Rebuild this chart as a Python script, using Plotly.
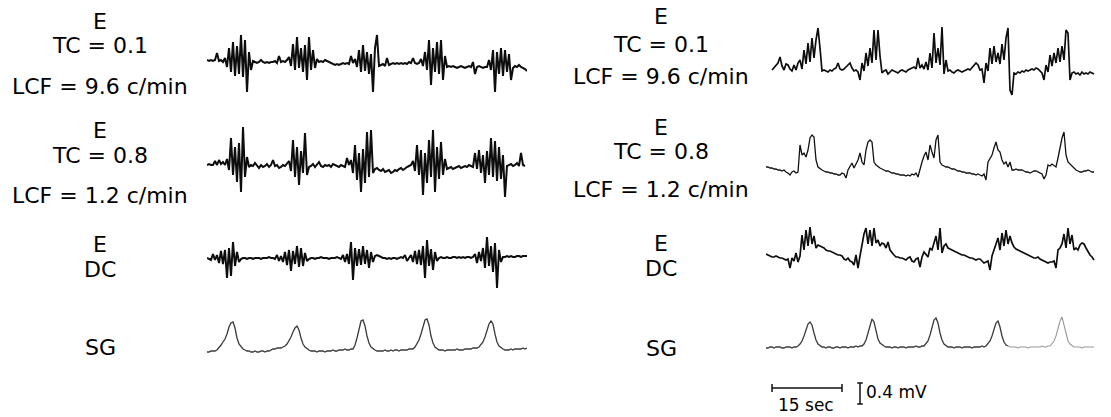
import plotly.graph_objects as go

W, H = 1111, 417
DT = 15 / 35          # seconds per sample
PX_PER_S = 70 / 15    # horizontal scale (15 s bar = 70 px)

# ---------------- data (amplitude units: 21 units = 0.4 mV, up positive) ----------------
E_TC01_LEFT = [2, 1, 2, 1, 2, 9, 1, 2, 0,
               4, -5, 14, -10, 20, -14, 16, -12, 27, -15, 22, -30, 10, -8,
               1, 0, -1, 0, 2, 0, -1, 0, -1, 0, 0, 1, -1, 6, 0, 1, 0, 2,
               5, -4, 18, -8, 25, -6, 14, -10, 17, -18, 25, -8, 12, -6, 3,
               0, 1, 0, 2, 1, 0, -1, -2, -3, -2, -3, -2, -1, -2, -1, -2, 6, -1,
               3, -5, 12, -10, 17, -9, 10, -12, 8, -30, 14, 27, -4,
               -3, -2, -4, 4, -3, -2, -1, -2, -1, -2, -1, -2, -1, -2, 0, -1, 4, -1, -2, -1,
               3, -4, 10, -8, 22, -23, 14, -10, 20, -12, 22, -18, 6, -5,
               -4, -5, -4, -5, -6, -5, -4, -5, -6, -5, -4, -5, 0, -12, -5, -4, -5, -6, -5, -5,
               2, -8, 12, -30, 10, -12, 14, -14, 12, -10, 8, -18,
               -6, -4, -5, -3, -5, -6, -7, -9]

E_TC08_LEFT = [0, 1, 0, 0, 4, 0, 5, 1, 3, 0,
               6, -5, 27, -10, 18, -17, 22, -27, 38, -12, 8,
               -2, 0, -1, 2, -1, -3, 0, -2, -1, 1, -2, 0, 5, -1, 0, -3, -2, 0, -1, 1,
               4, -6, 25, -12, 18, -20, 14, -8, 32, -10,
               -2, -1, 1, -2, 0, 3, -1, -2, 0, -1, 0, -2, 1, 0, -1, -2, 0, -1, -2, 7, 0,
               5, -8, 20, -15, 12, -27, 16, -18, 33, -12, 35, -8,
               -4, -3, -5, -6, -4, -7, -6, -5, -8, -7, -5, -6, -4, -3, -5, -3, -2, -1, 0,
               4, -6, 20, -10, 15, -30, 12, -18, 25, -12, 35, -27, 18, -14, 23, -10, 6, -4,
               -3, -2, -4, -3, -2, -1, -3, -2, -1, -2, 0, -1, -2,
               12, -4, 15, -8, 10, -18, 14, -10, 27, -12, 24, -16, 18, -14, 10, -32,
               -1, 0, 1, -1, 0, 2, -1, 12, 0, -1]

E_DC_LEFT = [0, -1, -2, 4, -2,
             3, -5, 7, -6, 8, -20, 10, -18, 16, -8, 6, -4,
             -1, 0, 0, -1, 0, 0, -1, 0, 0, 0, -1, 0, 0, 0, 1, 0, 0, -1, 3, -3,
             2, -4, 6, -7, 8, -13, 7, -6, 12, -9, 10, -8, 5, -3,
             -1, 0, 0, -1, 0, 0, 1, 0, 0, 0, -1, 0, 0, 0, 1, 0, -1, 3, -4,
             4, -6, 16, -22, 10, -8, 9, -7, 12, -6, 8, -10, 6, -4,
             2, 3, 2, 1, 0, 0, -1, 0, -1, 0, 0, -1, 0, 1, 0, 3, -3, 0,
             3, -4, 7, -6, 8, -7, 12, -20, 18, -8, 9, -12, 6, -3,
             0, 1, 0, 0, 1, 0, 0, 1, 1, 0, 1, 0, 1, 0, 1, 1, 0, 1,
             4, -5, 6, -3, 10, -10, 21, -8, 12, -14, 15, -30, 8, -4,
             1, 1, 2, 1, 2, 1, 1, 2, 2, 1, 2, 2, 2]

SG_LEFT = [-2, -2, -1, -1,
           -1, 0, 2, 5, 8, 11, 16, 23, 27, 28, 22, 12, 6, 3, 1, 0, -1,
           -1, -2, -2, -1, -2, -2, -1, -1, -2, -1, -1, 0, 1, 1, 2, 2,
           2, 3, 4, 6, 9, 13, 18, 22, 24, 20, 12, 6, 3, 1, 0, -1,
           -1, -1, -2, -1, -1, -1, -2, -1, -1, -1, 0, -1, -1, 0, 0, 0, 1, 0, 0, 1,
           1, 5, 12, 22, 29, 30, 24, 14, 7, 3, 1, 0, -1, -1,
           -1, -1, 0, -1, -1, 0, -1, 0, 0, -1, 0, 0, 0, 0, 1, 1,
           1, 3, 6, 10, 16, 24, 30, 31, 25, 14, 7, 3, 1, 0,
           0, 0, -1, 0, 0, 0, 0, 0, 1, 0, 0, 0, 1, 1, 1, 1, 2, 2,
           2, 3, 5, 8, 13, 19, 26, 29, 26, 16, 8, 4, 2, 1, 0,
           0, 0, 1, 0, 1, 1, 1, 1, 2, 1, 2]

E_TC01_RIGHT = [None, None, None,
                -2, 0, 3, 5, 11, 2, -2, 4, 3, -1, -3, 3, -2, 5,
                8, -1, 18, 4, 25, 6, 30, 10, 28, 40, 20, -3,
                -2, -3, -4, -2, -3, -1, 0, 5, -1, -2, -1, 1, 3, 5, 0, -3, -2, -4, -12,
                5, -3, 15, 2, 20, 5, 38, 8, 38, 12, -5,
                -3, -2, -6, -4, -2, -3, -4, -5, -3, -2, -3, -4, -2, -1, 0, 1, -1, 10, 0, 3, -1,
                6, -2, 15, 0, 35, 5, 20, 3, 41, -6, 8,
                -3, -2, -4, -5, -3, -2, -3, -4, -3, -2, -1, -2, 0, 2, 5, 3, -2, -1, -15,
                5, -3, 20, 4, 22, 6, 15, 4, 24, 8, 30, 40, -22, -27,
                -5, -6, -4, -5, -3, -4, -2, -3, -2, -1, -2, 0, -1, -3, -5, -12,
                3, -4, 13, 2, 15, 5, 20, 6, 22, 8, 38, 35, -12,
                -5, -4, -6, -5, -7, -4, -6, -5, -6, -4, -5, -6]

E_TC08_RIGHT = [3, 3, 2, 2, 1, 1, 0, 0, -1, 0, -2, -3, -5, -2, -1, -3, -2,
                25, 15, 17, 13, 20, 32, 35, 33, 10, 3, 1,
                0, -1, -2, -2, -3, -3, -4, -4, -5, -5, -3, -4, -8,
                0, 3, 7, 2, 6, 10, 17, 8, 5, 20, 28, 30, 28, 8, 5, 3, 2, 1,
                0, -1, -1, -2, -3, -3, -4, -4, -5, -5, -5, -6, -5, -6, -4, -5, -3, -7,
                2, 8, 14, 18, 10, 25, 18, 12, 30, 35, 8, 5, 4, 3, 3, 2, 1, 1,
                0, -1, -1, -2, -2, -3, -3, -3, -4, -4, -5, -4, -5, -6, -4, -10,
                8, 12, 15, 22, 28, 20, 18, 10, 6, 8, 3, 8, 0, 0, 1, 0, 0, 0, -1, -2,
                -2, -3, -2, -1, -1, -2, -3, -4, -9, -5,
                5, 4, 6, 4, 3, 12, 22, 32, 38, 15, 8, 6, 3, 1, 0, -1, -2, -2, -1, -1, 0, -1, -2, -2]

E_DC_RIGHT = [4, 3, 2, 1, 1, 2, 1, 0, 0, -1, -2, -1, -10, 0, -3, 5, -4, 2,
              23, 8, 28, 12, 31, 14, 22, 10, 13, 12, 11, 10, 8, 7, 7, 6, 5, 4, 3, 3, 2, -1, -2, 0, -3, -4, -7, 3, -10, 2,
              13, 24, 30, 14, 28, 12, 30, 15, 18, 12, 15, 14, 10, 16, 8, 5, 3, 1, 1, 0, 0, -1, -2, 0, 1, -3, -4, -1, 0, -9, 1,
              6, 3, 1, 10, 8, 15, 22, 8, 30, 5, 12, 14, 10, 9, 8, 7, 6, 5, 4, 3, 3, 2, 1, 0, 0, -1, -2, -1, -1, -3, -5, -4, -3, -12,
              2, 8, 13, 20, 8, 25, 12, 28, 14, 22, 15, 11, 9, 8, 7, 6, 5, 4, 3, 2, 1, 0, 0, 1, -1, -2, -3, -4, -5, -4, -4, -3, -10,
              8, 10, 14, 24, 10, 30, 14, 23, 8, 10, 8, 13, 15, 14, 10, 6, 3, 1, -2]

SG_RIGHT = [-1, -1, 0, 0, -1, 0, 0, 0, -1, -1, 0, 0, 0, -1, 0, 0,
            1, 3, 6, 11, 17, 23, 25, 22, 14, 7, 3, 1, 0,
            0, -1, 0, 0, -1, -1, 0, 0, -1, 0, 0, 0, -1, 0, 0, 0, 1, 0, 1,
            1, 3, 7, 14, 22, 28, 25, 16, 8, 4, 2, 1, 0,
            0, 0, -1, 0, 0, -1, 0, 0, 0, -1, 0, 0, 0, 0, 1, 0, 0, 1,
            1, 3, 6, 12, 20, 27, 29, 24, 14, 7, 3, 1, 0,
            0, 0, -1, 0, 0, 0, -1, 0, 0, 0, 0, -1, 0, 0, 0, 0, 1, 0,
            1, 3, 6, 11, 18, 24, 26, 20, 11, 5, 2, 1, 0,
            0, 0, 0, -1, 0, 0, 0, 0, -1, 0, 0, 0, 0, 0, 0, 1, 0, 0, 1,
            1, 3, 6, 11, 18, 26, 30, 22, 12, 6, 3, 1, 0,
            0, 0, 0, -1, 0, 0, 0, 0, 0, 0]

SG_FADE_INDEX = 121          # recording ink fades from this sample on

SCALE_SEC = 15
SCALE_MV = 0.4
UNITS_PER_MV = 21 / 0.4

LEFT_LABELS = [("E", 21), ("TC = 0.1", 45), ("LCF = 9.6 c/min", 86),
               ("E", 130), ("TC = 0.8", 155), ("LCF = 1.2 c/min", 195),
               ("E", 244), ("DC", 269), ("SG", 347)]
RIGHT_LABELS = [("E", 17), ("TC = 0.1", 44), ("LCF = 9.6 c/min", 77),
                ("E", 127), ("TC = 0.8", 152), ("LCF = 1.2 c/min", 189),
                ("E", 243), ("DC", 268), ("SG", 348)]

# ---------------- layout helpers ----------------
def py(p):
    return 1 - p / H

HALF = 50
LEFT_X = (207, 527)
RIGHT_X = (766, 1096)

rows = [  # data, column, baseline px, color, width
    (E_TC01_LEFT, 1, 62, "#0d0d0d", 2.0),
    (E_TC08_LEFT, 1, 165, "#0d0d0d", 2.0),
    (E_DC_LEFT, 1, 258, "#0d0d0d", 2.0),
    (SG_LEFT, 1, 350, "#3a3a3a", 1.3),
    (E_TC01_RIGHT, 2, 68, "#0d0d0d", 1.7),
    (E_TC08_RIGHT, 2, 170, "#111", 1.3),
    (E_DC_RIGHT, 2, 258, "#0d0d0d", 1.7),
]

fig = go.Figure()
layout = dict(
    width=W, height=H, margin=dict(l=0, r=0, t=0, b=0),
    paper_bgcolor="white", plot_bgcolor="rgba(0,0,0,0)", showlegend=False,
    xaxis=dict(domain=[LEFT_X[0] / W, LEFT_X[1] / W], range=[0, (LEFT_X[1] - LEFT_X[0]) / PX_PER_S],
               visible=False, fixedrange=True),
    xaxis2=dict(domain=[RIGHT_X[0] / W, RIGHT_X[1] / W], range=[0, (RIGHT_X[1] - RIGHT_X[0]) / PX_PER_S],
                visible=False, fixedrange=True),
)

def add_axis(n, col, base):
    layout["yaxis" if n == 1 else f"yaxis{n}"] = dict(
        domain=[py(base + HALF), py(base - HALF)], range=[-HALF, HALF],
        visible=False, fixedrange=True, anchor="x" if col == 1 else "x2")

n = 0
for data, col, base, color, width in rows:
    n += 1
    add_axis(n, col, base)
    fig.add_trace(go.Scatter(x=[i * DT for i in range(len(data))], y=data, mode="lines",
                             line=dict(color=color, width=width),
                             xaxis="x" if col == 1 else "x2", yaxis="y" if n == 1 else f"y{n}",
                             hoverinfo="skip"))

# SG right: dark part then faded part
n += 1
add_axis(n, 2, 347)
dark = SG_RIGHT[:SG_FADE_INDEX + 1]
fade = SG_RIGHT[SG_FADE_INDEX:]
fig.add_trace(go.Scatter(x=[i * DT for i in range(len(dark))], y=dark, mode="lines",
                         line=dict(color="#3a3a3a", width=1.3), xaxis="x2", yaxis=f"y{n}", hoverinfo="skip"))
fig.add_trace(go.Scatter(x=[(SG_FADE_INDEX + i) * DT for i in range(len(fade))], y=fade, mode="lines",
                         line=dict(color="#9a9a9a", width=1.1), xaxis="x2", yaxis=f"y{n}", hoverinfo="skip"))

# scale bars (axis in same amplitude units, bottom at px 415)
n += 1
layout[f"yaxis{n}"] = dict(domain=[py(415), py(375)], range=[0, 40], visible=False,
                           fixedrange=True, anchor="x2")
t0 = (772 - RIGHT_X[0]) / PX_PER_S
t1 = t0 + SCALE_SEC
hb = 27      # horizontal bar level
tv = (860 - RIGHT_X[0]) / PX_PER_S
v0 = 11
v1 = v0 + SCALE_MV * UNITS_PER_MV
sx = 0.6
bar_x = [t0, t1, None, t0, t0, None, t1, t1, None, tv, tv, None, tv - sx, tv + sx, None, tv - sx, tv + sx]
bar_y = [hb, hb, None, hb - 4, hb + 4, None, hb - 4, hb + 4, None, v0, v1, None, v0, v0, None, v1, v1]
fig.add_trace(go.Scatter(x=bar_x, y=bar_y, mode="lines", line=dict(color="#111", width=1.5),
                         xaxis="x2", yaxis=f"y{n}", hoverinfo="skip"))

fig.update_layout(**layout)

FONT = dict(family="DejaVu Sans", size=22, color="#000")
for text, y in LEFT_LABELS:
    fig.add_annotation(x=100 / W, y=py(y), xref="paper", yref="paper", text=text, showarrow=False,
                       xanchor="center", yanchor="middle", font=FONT)
for text, y in RIGHT_LABELS:
    fig.add_annotation(x=661 / W, y=py(y), xref="paper", yref="paper", text=text, showarrow=False,
                       xanchor="center", yanchor="middle", font=FONT)

SMALL = dict(family="DejaVu Sans", size=17, color="#000")
fig.add_annotation(x=806 / W, y=py(405), xref="paper", yref="paper", text=f"{SCALE_SEC} sec",
                   showarrow=False, xanchor="center", yanchor="middle", font=SMALL)
fig.add_annotation(x=864 / W, y=py(392), xref="paper", yref="paper", text=f"{SCALE_MV} mV",
                   showarrow=False, xanchor="left", yanchor="middle", font=SMALL)

fig.write_html("out.html")
